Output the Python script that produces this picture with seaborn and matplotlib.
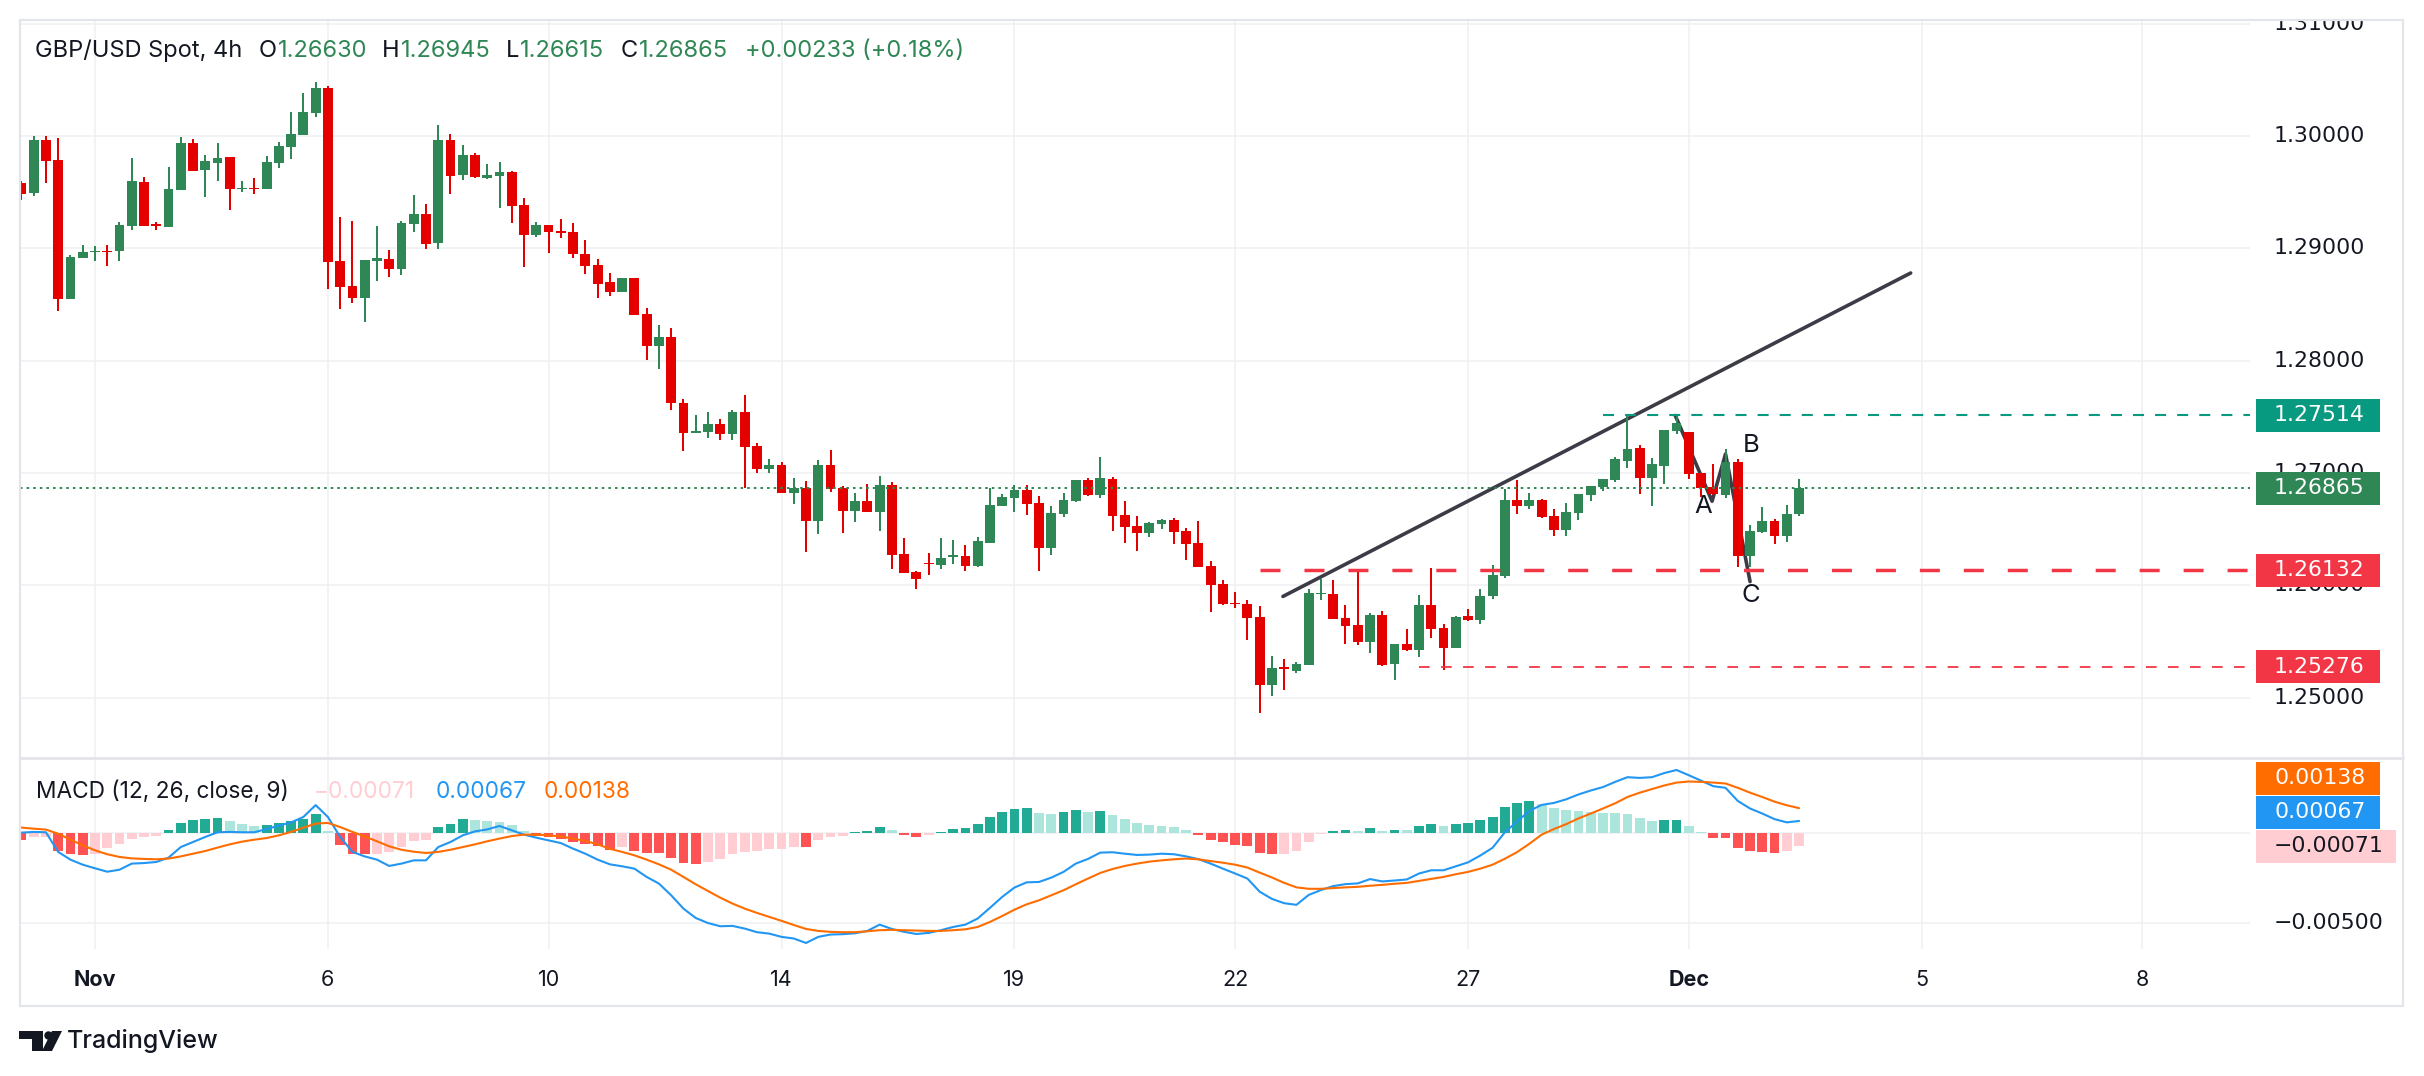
import numpy as np
import pandas as pd
import matplotlib
matplotlib.use("Agg")
import matplotlib.pyplot as plt
import matplotlib.transforms as mtransforms
from matplotlib.patches import Rectangle, Polygon, Circle
from matplotlib.lines import Line2D
import seaborn as sns

# ---------------- data ----------------
opens = [1.29584, 1.29495, 1.29964, 1.29786, 1.28551, 1.28916, 1.28970, 1.28980, 1.28978, 1.29201,
 1.29590, 1.29215, 1.29192, 1.29519, 1.29938, 1.29700, 1.29762, 1.29813, 1.29530, 1.29540,
 1.29531, 1.29759, 1.29902, 1.30009, 1.30205, 1.30428, 1.28886, 1.28664, 1.28557, 1.28890,
 1.28904, 1.28815, 1.29216, 1.29305, 1.29047, 1.29964, 1.29653, 1.29831, 1.29630, 1.29644,
 1.29679, 1.29385, 1.29118, 1.29207, 1.29155, 1.29145, 1.28949, 1.28851, 1.28699, 1.28610,
 1.28735, 1.28414, 1.28129, 1.28209, 1.27621, 1.27354, 1.27363, 1.27434, 1.27345, 1.27541,
 1.27238, 1.27033, 1.27069, 1.26819, 1.26864, 1.26569, 1.27069, 1.26864, 1.26659, 1.26748,
 1.26650, 1.26890, 1.26276, 1.26115, 1.26201, 1.26180, 1.26255, 1.26257, 1.26168, 1.26376,
 1.26703, 1.26777, 1.26846, 1.26730, 1.26329, 1.26632, 1.26748, 1.26935, 1.26801, 1.26944,
 1.26623, 1.26525, 1.26462, 1.26543, 1.26578, 1.26480, 1.26373, 1.26168, 1.26008, 1.25845,
 1.25830, 1.25714, 1.25108, 1.25269, 1.25233, 1.25286, 1.25920, 1.25919, 1.25705, 1.25643,
 1.25491, 1.25738, 1.25301, 1.25479, 1.25426, 1.25827, 1.25622, 1.25444, 1.25729, 1.25693,
 1.25907, 1.26085, 1.26762, 1.26709, 1.26762, 1.26620, 1.26495, 1.26647, 1.26807, 1.26878,
 1.26941, 1.27110, 1.27226, 1.26958, 1.27065, 1.27377, 1.27368, 1.27003, 1.26878, 1.26807,
 1.27101, 1.26263, 1.26477, 1.26575, 1.26442, 1.26630]

highs = [1.29602, 1.30000, 1.30000, 1.29982, 1.28940, 1.29029, 1.29020, 1.29029, 1.29234, 1.29804,
 1.29635, 1.29230, 1.29724, 1.29991, 1.29973, 1.29831, 1.29938, 1.29813, 1.29599, 1.29626,
 1.29822, 1.29947, 1.30214, 1.30383, 1.30481, 1.30446, 1.29278, 1.29243, 1.28895, 1.29198,
 1.28985, 1.29243, 1.29474, 1.29394, 1.30098, 1.30018, 1.29920, 1.29849, 1.29751, 1.29768,
 1.29688, 1.29448, 1.29234, 1.29207, 1.29260, 1.29225, 1.29073, 1.28904, 1.28779, 1.28735,
 1.28735, 1.28467, 1.28316, 1.28289, 1.27657, 1.27514, 1.27541, 1.27478, 1.27559, 1.27692,
 1.27265, 1.27122, 1.27095, 1.26953, 1.26926, 1.27113, 1.27202, 1.26881, 1.26819, 1.26899,
 1.26970, 1.26917, 1.26418, 1.26124, 1.26284, 1.26418, 1.26400, 1.26356, 1.26427, 1.26863,
 1.26810, 1.26890, 1.26890, 1.26792, 1.26703, 1.26819, 1.26935, 1.26952, 1.27140, 1.26961,
 1.26748, 1.26614, 1.26560, 1.26587, 1.26596, 1.26507, 1.26569, 1.26213, 1.26044, 1.25937,
 1.25866, 1.25812, 1.25367, 1.25340, 1.25313, 1.25963, 1.26053, 1.26044, 1.25821, 1.26124,
 1.25756, 1.25773, 1.25479, 1.25613, 1.25916, 1.26157, 1.25658, 1.25729, 1.25791, 1.25969,
 1.26183, 1.26860, 1.26941, 1.26825, 1.26771, 1.26682, 1.26736, 1.26816, 1.26887, 1.26950,
 1.27146, 1.27514, 1.27252, 1.27137, 1.27386, 1.27511, 1.27368, 1.27003, 1.27083, 1.27217,
 1.27128, 1.26540, 1.26700, 1.26593, 1.26718, 1.26945]

lows = [1.29430, 1.29465, 1.29584, 1.28444, 1.28550, 1.28916, 1.28889, 1.28842, 1.28889, 1.29165,
 1.29200, 1.29162, 1.29190, 1.29519, 1.29691, 1.29460, 1.29602, 1.29341, 1.29504, 1.29483,
 1.29530, 1.29718, 1.29795, 1.30009, 1.30169, 1.28637, 1.28459, 1.28512, 1.28343, 1.28708,
 1.28744, 1.28761, 1.29145, 1.28993, 1.28993, 1.29483, 1.29608, 1.29626, 1.29617, 1.29358,
 1.29225, 1.28833, 1.29100, 1.28958, 1.29091, 1.28913, 1.28770, 1.28557, 1.28574, 1.28610,
 1.28405, 1.28004, 1.27924, 1.27559, 1.27193, 1.27354, 1.27309, 1.27291, 1.27291, 1.26864,
 1.26997, 1.26997, 1.26819, 1.26721, 1.26293, 1.26454, 1.26828, 1.26463, 1.26561, 1.26650,
 1.26481, 1.26142, 1.26106, 1.25963, 1.26088, 1.26142, 1.26186, 1.26124, 1.26160, 1.26376,
 1.26703, 1.26650, 1.26623, 1.26124, 1.26266, 1.26605, 1.26739, 1.26792, 1.26774, 1.26480,
 1.26373, 1.26302, 1.26427, 1.26498, 1.26364, 1.26222, 1.26160, 1.25759, 1.25821, 1.25794,
 1.25509, 1.24859, 1.25010, 1.25064, 1.25215, 1.25286, 1.25866, 1.25696, 1.25473, 1.25464,
 1.25399, 1.25283, 1.25159, 1.25417, 1.25364, 1.25533, 1.25248, 1.25444, 1.25684, 1.25658,
 1.25880, 1.26067, 1.26638, 1.26682, 1.26602, 1.26442, 1.26442, 1.26584, 1.26753, 1.26843,
 1.26923, 1.27048, 1.26816, 1.26709, 1.26905, 1.27350, 1.26950, 1.26789, 1.26807, 1.26780,
 1.26165, 1.26165, 1.26468, 1.26370, 1.26388, 1.26615]

closes = [1.29483, 1.29964, 1.29780, 1.28551, 1.28919, 1.28963, 1.28980, 1.28970, 1.29207, 1.29599,
 1.29201, 1.29201, 1.29528, 1.29938, 1.29691, 1.29777, 1.29801, 1.29531, 1.29540, 1.29530,
 1.29768, 1.29911, 1.30018, 1.30214, 1.30428, 1.28880, 1.28655, 1.28557, 1.28895, 1.28910,
 1.28815, 1.29225, 1.29305, 1.29038, 1.29964, 1.29644, 1.29831, 1.29635, 1.29650, 1.29679,
 1.29376, 1.29118, 1.29207, 1.29145, 1.29140, 1.28949, 1.28842, 1.28681, 1.28610, 1.28735,
 1.28405, 1.28129, 1.28209, 1.27621, 1.27354, 1.27370, 1.27434, 1.27345, 1.27541, 1.27229,
 1.27033, 1.27069, 1.26819, 1.26864, 1.26569, 1.27069, 1.26855, 1.26659, 1.26748, 1.26650,
 1.26890, 1.26267, 1.26106, 1.26056, 1.26186, 1.26240, 1.26270, 1.26168, 1.26391, 1.26712,
 1.26783, 1.26846, 1.26721, 1.26329, 1.26641, 1.26756, 1.26935, 1.26801, 1.26952, 1.26614,
 1.26516, 1.26462, 1.26552, 1.26578, 1.26471, 1.26364, 1.26160, 1.25999, 1.25830, 1.25836,
 1.25705, 1.25108, 1.25260, 1.25254, 1.25295, 1.25928, 1.25930, 1.25696, 1.25634, 1.25491,
 1.25738, 1.25292, 1.25479, 1.25426, 1.25827, 1.25613, 1.25444, 1.25720, 1.25693, 1.25907,
 1.26094, 1.26762, 1.26709, 1.26762, 1.26611, 1.26495, 1.26655, 1.26816, 1.26887, 1.26950,
 1.27128, 1.27217, 1.26958, 1.27083, 1.27386, 1.27448, 1.26994, 1.26869, 1.26816, 1.27101,
 1.26263, 1.26486, 1.26575, 1.26442, 1.26632, 1.26865]

macd_line = [0.00002, 0.00006, 0.00004, -0.00105, -0.00148, -0.00176, -0.00196, -0.00215, -0.00204, -0.00170,
 -0.00167, -0.00161, -0.00137, -0.00078, -0.00050, -0.00022, 0.00004, 0.00006, 0.00004, 0.00004,
 0.00022, 0.00041, 0.00059, 0.00089, 0.00155, 0.00089, -0.00022, -0.00105, -0.00130, -0.00148,
 -0.00183, -0.00170, -0.00152, -0.00152, -0.00078, -0.00050, -0.00013, 0.00009, 0.00020, 0.00039,
 0.00015, -0.00009, -0.00026, -0.00041, -0.00056, -0.00087, -0.00115, -0.00148, -0.00174, -0.00185,
 -0.00198, -0.00244, -0.00281, -0.00346, -0.00420, -0.00472, -0.00500, -0.00518, -0.00516, -0.00531,
 -0.00551, -0.00559, -0.00577, -0.00586, -0.00611, -0.00577, -0.00564, -0.00562, -0.00557, -0.00544,
 -0.00509, -0.00533, -0.00549, -0.00561, -0.00555, -0.00540, -0.00522, -0.00509, -0.00475, -0.00416,
 -0.00355, -0.00303, -0.00274, -0.00272, -0.00248, -0.00216, -0.00170, -0.00144, -0.00109, -0.00107,
 -0.00115, -0.00122, -0.00120, -0.00115, -0.00118, -0.00130, -0.00145, -0.00170, -0.00198, -0.00225,
 -0.00253, -0.00326, -0.00366, -0.00390, -0.00399, -0.00344, -0.00317, -0.00295, -0.00284, -0.00280,
 -0.00256, -0.00269, -0.00264, -0.00258, -0.00225, -0.00207, -0.00207, -0.00185, -0.00163, -0.00125,
 -0.00082, 0.00004, 0.00064, 0.00123, 0.00156, 0.00167, 0.00187, 0.00214, 0.00236, 0.00255,
 0.00284, 0.00310, 0.00306, 0.00310, 0.00333, 0.00350, 0.00321, 0.00291, 0.00260, 0.00251,
 0.00178, 0.00136, 0.00108, 0.00077, 0.00059, 0.00067]

signal_line = [0.00030, 0.00024, 0.00019, -0.00004, -0.00037, -0.00068, -0.00096, -0.00118, -0.00133, -0.00141,
 -0.00144, -0.00146, -0.00142, -0.00130, -0.00115, -0.00100, -0.00081, -0.00063, -0.00048, -0.00037,
 -0.00028, -0.00013, 0.00006, 0.00030, 0.00052, 0.00056, 0.00033, 0.00006, -0.00019, -0.00046,
 -0.00074, -0.00093, -0.00104, -0.00111, -0.00105, -0.00093, -0.00078, -0.00063, -0.00046, -0.00031,
 -0.00017, -0.00009, -0.00009, -0.00013, -0.00019, -0.00031, -0.00044, -0.00063, -0.00088, -0.00105,
 -0.00124, -0.00148, -0.00174, -0.00204, -0.00244, -0.00285, -0.00322, -0.00359, -0.00392, -0.00420,
 -0.00444, -0.00466, -0.00488, -0.00511, -0.00533, -0.00544, -0.00549, -0.00551, -0.00551, -0.00546,
 -0.00540, -0.00538, -0.00540, -0.00542, -0.00544, -0.00544, -0.00540, -0.00535, -0.00522, -0.00494,
 -0.00461, -0.00426, -0.00396, -0.00374, -0.00346, -0.00318, -0.00285, -0.00253, -0.00222, -0.00200,
 -0.00183, -0.00170, -0.00159, -0.00152, -0.00146, -0.00142, -0.00146, -0.00156, -0.00165, -0.00176,
 -0.00192, -0.00220, -0.00247, -0.00277, -0.00302, -0.00310, -0.00310, -0.00306, -0.00302, -0.00299,
 -0.00293, -0.00288, -0.00282, -0.00277, -0.00266, -0.00255, -0.00244, -0.00229, -0.00216, -0.00198,
 -0.00176, -0.00143, -0.00106, -0.00060, -0.00009, 0.00022, 0.00049, 0.00081, 0.00108, 0.00136,
 0.00165, 0.00200, 0.00224, 0.00244, 0.00264, 0.00280, 0.00286, 0.00284, 0.00280, 0.00275,
 0.00251, 0.00224, 0.00200, 0.00174, 0.00154, 0.00138]

macd_hist = [-0.00041, -0.00022, -0.00020, -0.00102, -0.00118, -0.00121, -0.00115, -0.00081, -0.00063, -0.00035,
 -0.00022, -0.00017, 0.00015, 0.00057, 0.00070, 0.00076, 0.00081, 0.00065, 0.00052, 0.00039,
 0.00043, 0.00056, 0.00067, 0.00080, 0.00104, 0.00011, -0.00068, -0.00115, -0.00118, -0.00115,
 -0.00108, -0.00078, -0.00044, -0.00041, 0.00033, 0.00052, 0.00076, 0.00070, 0.00069, 0.00061,
 0.00043, 0.00011, -0.00019, -0.00021, -0.00031, -0.00050, -0.00059, -0.00074, -0.00093, -0.00078,
 -0.00100, -0.00111, -0.00112, -0.00139, -0.00167, -0.00174, -0.00161, -0.00146, -0.00118, -0.00105,
 -0.00100, -0.00091, -0.00090, -0.00076, -0.00079, -0.00041, -0.00022, -0.00017, 0.00004, 0.00009,
 0.00031, 0.00015, -0.00011, -0.00022, -0.00011, 0.00004, 0.00020, 0.00026, 0.00048, 0.00087,
 0.00115, 0.00131, 0.00137, 0.00109, 0.00108, 0.00115, 0.00126, 0.00118, 0.00120, 0.00098,
 0.00076, 0.00056, 0.00044, 0.00037, 0.00031, 0.00015, -0.00012, -0.00037, -0.00051, -0.00064,
 -0.00073, -0.00112, -0.00119, -0.00118, -0.00100, -0.00048, -0.00005, 0.00013, 0.00018, 0.00013,
 0.00029, 0.00013, 0.00018, 0.00017, 0.00040, 0.00048, 0.00040, 0.00051, 0.00057, 0.00073,
 0.00090, 0.00145, 0.00167, 0.00178, 0.00161, 0.00139, 0.00128, 0.00123, 0.00117, 0.00112,
 0.00111, 0.00106, 0.00084, 0.00068, 0.00073, 0.00074, 0.00040, 0.00007, -0.00029, -0.00030,
 -0.00084, -0.00100, -0.00106, -0.00112, -0.00100, -0.00071]

# time axis (bar index of each label)
tick_index = [6, 25, 43, 62, 81, 99, 118, 136, 155, 173]
tick_labels = ["Nov", "6", "10", "14", "19", "22", "27", "Dec", "5", "8"]
month_labels = ["Nov", "Dec"]

price_ticks = [1.25, 1.26, 1.27, 1.28, 1.29, 1.30, 1.31]
macd_tick_labels = [-0.005]

# drawings
level_prices = [1.27514, 1.26132, 1.25276]
level_start = [129, 101, 114]
trend_x = [102.9, 154.1]
trend_y = [1.2590, 1.2878]
abc_x = [134.9, 137.9, 139.0, 141.0]
abc_y = [1.27511, 1.26748, 1.27169, 1.26032]
abc_text = ["A", "B", "C"]
abc_text_x = [137.2, 141.1, 141.1]
abc_text_y = [1.2670, 1.2724, 1.2591]

# ---------------- style ----------------
W, H, DPI = 2424, 1076, 100
sns.set_theme(style="white")
plt.rcParams['font.family'] = ['Inter', 'DejaVu Sans']
plt.rcParams['axes.unicode_minus'] = True

UP = "#2e8754"
DN = "#e50000"
DARK = "#131722"
GRID = "#eef0f3"
FRAME = "#e3e5ea"
TEAL = "#089981"
RED = "#f23645"
BLUE = "#2196f3"
ORANGE = "#ff6d00"
PINK = "#ffcdd2"
H_UP, H_UPL, H_DN, H_DNL = "#22ab94", "#ace5dc", "#ff5252", "#ffcdd2"
LINE = "#3c3c47"

fig = plt.figure(figsize=(W / DPI, H / DPI), dpi=DPI)
fig.patch.set_facecolor("white")

def rect(x0, y0, x1, y1):
    return [x0 / W, 1 - y1 / H, (x1 - x0) / W, (y1 - y0) / H]

PL, PR, PT, PB = 20, 2250, 20, 757
MT, MB = 758, 949
SR = 2403

ax = fig.add_axes(rect(PL, PT, PR, PB))
axm = fig.add_axes(rect(PL, MT, PR, MB))
axp = fig.add_axes(rect(PR, PT, SR, PB))
axpm = fig.add_axes(rect(PR, MT, SR, MB))

bar_px = 12.26
XMIN = (PL - 21.4) / bar_px
XMAX = (PR - 21.4) / bar_px
px_per_price = 11230.0
YTOP = 1.30 + (136 - PT) / px_per_price
YBOT = 1.30 - (PB - 136) / px_per_price
px_per_macd = 18002.0
MTOP = (833 - MT) / px_per_macd
MBOT = -(MB - 833) / px_per_macd

for a in (ax, axm, axp, axpm):
    a.set_facecolor("white")
    for s in a.spines.values():
        s.set_visible(False)
    a.set_xticks([])
    a.set_yticks([])
for a in (ax, axm):
    a.set_xlim(XMIN, XMAX)
ax.set_ylim(YBOT, YTOP)
axp.set_ylim(YBOT, YTOP)
axm.set_ylim(MBOT, MTOP)
axpm.set_ylim(MBOT, MTOP)
axp.set_xlim(0, 1)
axpm.set_xlim(0, 1)

# grid
for xi in tick_index:
    ax.axvline(xi, color=GRID, lw=1.1, zorder=0)
    axm.axvline(xi, color=GRID, lw=1.1, zorder=0)
for p in price_ticks:
    ax.axhline(p, color=GRID, lw=1.1, zorder=0)
axm.axhline(0, color=GRID, lw=1.1, zorder=0)
for v in macd_tick_labels:
    axm.axhline(v, color=GRID, lw=1.1, zorder=0)

# ---------------- candles ----------------
df = pd.DataFrame({"o": opens, "h": highs, "l": lows, "c": closes})
df["x"] = np.arange(len(df))
df["up"] = df["c"] >= df["o"]
cols = np.where(df["up"], UP, DN)
ax.vlines(df["x"], df["l"], df["h"], colors=cols, lw=1.44, zorder=3)
body_lo = np.minimum(df["o"], df["c"])
body_h = np.maximum((df["c"] - df["o"]).abs(), 1.1 / px_per_price)
ax.bar(df["x"], body_h, bottom=body_lo, width=0.8, color=cols, linewidth=0, zorder=3)

# current price dotted line
last_close = closes[-1]
ax.plot([XMIN, XMAX], [last_close, last_close], color=UP, lw=1.4,
        linestyle=(0, (1.3, 2.1)), zorder=4)

# level lines
ax.plot([level_start[0], XMAX], [level_prices[0]] * 2, color=TEAL, lw=1.5,
        linestyle=(0, (5.3, 5.3)), zorder=4)
ax.plot([level_start[1], XMAX], [level_prices[1]] * 2, color=RED, lw=2.5,
        linestyle=(0, (5.76, 6.9)), zorder=4)
ax.plot([level_start[2], XMAX], [level_prices[2]] * 2, color=RED, lw=1.3,
        linestyle=(0, (5.9, 6.3)), zorder=4)

# trend line and ABC (drawn beneath the candles, as in the reference)
sns.lineplot(x=trend_x, y=trend_y, ax=ax, color=LINE, lw=2.6, zorder=2.5,
             solid_capstyle="round", legend=False)
ax.plot(abc_x, abc_y, color=LINE, lw=2.6, zorder=2.5, solid_capstyle="round",
        solid_joinstyle="round")
for t, tx, ty in zip(abc_text, abc_text_x, abc_text_y):
    ax.text(tx, ty, t, fontsize=18.5, color=DARK, ha="center", va="center", zorder=6)

# ---------------- MACD ----------------
x = np.arange(len(macd_hist))
hcols = []
for i, v in enumerate(macd_hist):
    prev = macd_hist[i - 1] if i > 0 else None
    if v >= 0:
        hcols.append(H_UP if (prev is None or v > prev) else H_UPL)
    else:
        hcols.append(H_DNL if (prev is not None and v > prev) else H_DN)
axm.bar(x, macd_hist, width=0.8, color=hcols, linewidth=0, zorder=2)
sns.lineplot(x=x, y=macd_line, ax=axm, color=BLUE, lw=1.5, zorder=3, legend=False)
sns.lineplot(x=x, y=signal_line, ax=axm, color=ORANGE, lw=1.5, zorder=3, legend=False)
axm.set_xlim(XMIN, XMAX)
axm.set_ylim(MBOT, MTOP)
axm.set_xlabel("")
axm.set_ylabel("")
ax.set_xlabel("")
ax.set_ylabel("")
ax.set_xlim(XMIN, XMAX)
ax.set_ylim(YBOT, YTOP)

# ---------------- price scales ----------------
SCALE_FONT = dict(family=["DejaVu Sans"], fontsize=15.8)
tp = mtransforms.blended_transform_factory(axp.transAxes, axp.transData)
tpm = mtransforms.blended_transform_factory(axpm.transAxes, axpm.transData)
LX = (2274 - PR) / (SR - PR)
BX0 = (2256 - PR) / (SR - PR)
BX1 = (2380 - PR) / (SR - PR)
BX1W = (2396 - PR) / (SR - PR)

for p in price_ticks:
    axp.text(LX, p, f"{p:.5f}", transform=tp, ha="left", va="center", color=DARK,
             clip_on=True, zorder=2, **SCALE_FONT)
for v in macd_tick_labels:
    axpm.text(LX, v, f"{v:.5f}".replace("-", "\u2212"), transform=tpm, ha="left",
              va="center", color=DARK, clip_on=True, zorder=2, **SCALE_FONT)

def price_box(a, trans, y, h, text, fc, tc, x1=BX1):
    a.add_patch(Rectangle((BX0, y - h / 2), x1 - BX0, h, transform=trans, facecolor=fc,
                          edgecolor="none", zorder=5, clip_on=False))
    a.text(LX, y, text, transform=trans, ha="left", va="center", color=tc, zorder=6,
           clip_on=False, **SCALE_FONT)

bh = 33 / px_per_price
price_box(axp, tp, level_prices[0], bh, f"{level_prices[0]:.5f}", TEAL, "white")
price_box(axp, tp, last_close, bh, f"{last_close:.5f}", UP, "white")
price_box(axp, tp, level_prices[1], bh, f"{level_prices[1]:.5f}", RED, "white")
price_box(axp, tp, level_prices[2], bh, f"{level_prices[2]:.5f}", RED, "white")

bhm = 33 / px_per_macd
def macd_pos(ypx):
    return (833 - ypx) / px_per_macd
price_box(axpm, tpm, macd_pos(778), bhm, f"{signal_line[-1]:.5f}", ORANGE, "white")
price_box(axpm, tpm, macd_pos(812), bhm, f"{macd_line[-1]:.5f}", BLUE, "white")
price_box(axpm, tpm, macd_pos(846), bhm, f"{macd_hist[-1]:.5f}".replace("-", "\u2212"),
          PINK, DARK, x1=BX1W)

# ---------------- time axis labels ----------------
tx = mtransforms.blended_transform_factory(axm.transData, axm.transAxes)
ylab = (MB - 980) / (MB - MT)
for xi, lab in zip(tick_index, tick_labels):
    axm.text(xi, ylab, lab, transform=tx, ha="center", va="center", color=DARK,
             fontsize=15.5, fontweight="bold" if lab in month_labels else "normal",
             clip_on=False)

# ---------------- frame ----------------
PIX = mtransforms.Affine2D().scale(1, -1).translate(0, H)
def pline(xs, ys, lw=1.6, color=FRAME):
    fig.add_artist(Line2D(xs, ys, transform=PIX, color=color, lw=lw))
pline([PL, SR], [PT, PT])
pline([PL, PL], [PT, 1006])
pline([SR, SR], [PT, 1006])
pline([PL, SR], [1006, 1006])
pline([PL, SR], [757.5, 757.5], lw=2.0)

# ---------------- legends / titles ----------------
fig.canvas.draw()
rend = fig.canvas.get_renderer()

def seg_text(parts, ypx, size):
    cur = None
    for s, color, xpx in parts:
        xx = xpx if xpx is not None else cur
        t = fig.text(xx / W, 1 - ypx / H, s, color=color, fontsize=size,
                     ha="left", va="center")
        bb = t.get_window_extent(rend)
        cur = bb.x1 + 1

chg = closes[-1] - closes[-2]
pct = chg / closes[-2] * 100
title_parts = [
    ("GBP/USD Spot, 4h", DARK, 35),
    ("O", DARK, 259), (f"{opens[-1]:.5f}", UP, None),
    ("H", DARK, 382), (f"{highs[-1]:.5f}", UP, None),
    ("L", DARK, 506), (f"{lows[-1]:.5f}", UP, None),
    ("C", DARK, 621), (f"{closes[-1]:.5f}", UP, None),
    (f"{chg:+.5f} ({pct:+.2f}%)", UP, 745),
]
seg_text(title_parts, 51, 17)

macd_parts = [
    ("MACD (12, 26, close, 9)", DARK, 36),
    (f"{macd_hist[-1]:.5f}".replace("-", "\u2212"), PINK, 314),
    (f"{macd_line[-1]:.5f}", BLUE, 436),
    (f"{signal_line[-1]:.5f}", ORANGE, 544),
]
seg_text(macd_parts, 792, 16.3)

# TradingView logo
fig.add_artist(Polygon([(19, 1031), (43, 1031), (43, 1051), (32, 1051), (32, 1039), (19, 1039)],
                       closed=True, transform=PIX, facecolor=DARK, edgecolor="none"))
fig.add_artist(Circle((48.5, 1035.5), 4.2, transform=PIX, facecolor=DARK, edgecolor="none"))
fig.add_artist(Polygon([(52, 1031), (62, 1031), (52, 1051), (42, 1051)],
                       closed=True, transform=PIX, facecolor=DARK, edgecolor="none"))
fig.text(67 / W, 1 - 1041 / H, "TradingView", color=DARK, fontsize=18, fontweight="medium",
         ha="left", va="center")

fig.savefig("out.png", dpi=DPI, facecolor="white")
